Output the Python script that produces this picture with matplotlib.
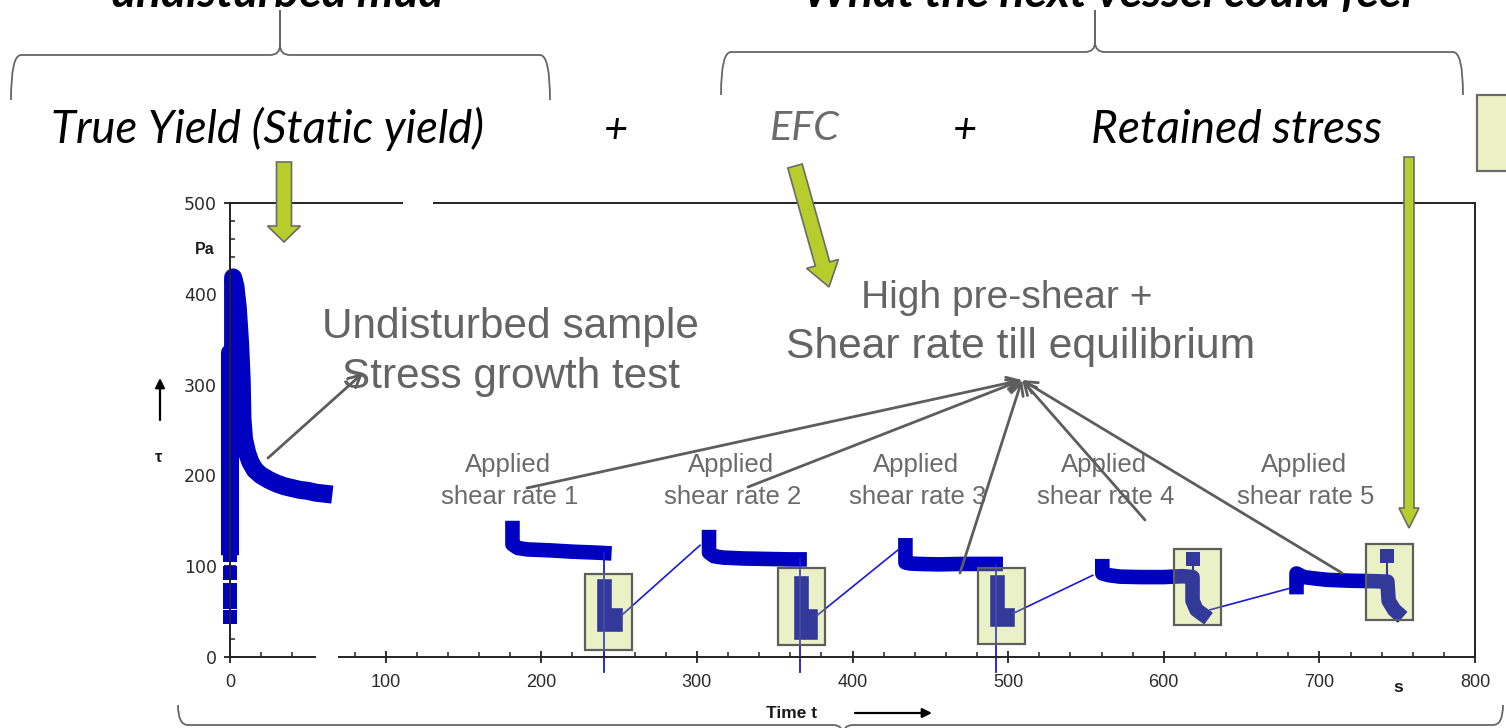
import matplotlib
matplotlib.use('Agg')
import matplotlib.pyplot as plt
from matplotlib.patches import Rectangle, FancyArrow, PathPatch
from matplotlib.path import Path
from matplotlib.ticker import MultipleLocator

# stress growth test on the undisturbed sample (t in s, tau in Pa)
growth_t = [0, 0, 2, 2, 3.5, 5, 6.5, 7.5, 8, 9, 11, 13, 16, 20, 25, 30, 35, 40, 45, 50, 55, 60]
growth_tau = [122, 335, 335, 418, 408, 385, 345, 305, 262, 240, 225, 215, 206, 200, 195, 191, 188, 186, 184, 183, 181, 180]
first_t = [0, 0, 0, 0, 0]
first_tau = [44, 61, 74, 92, 112]

# applied shear rates 1..5 (plateau, then stress relaxation)
rate1_t = [181.5, 181.5, 185, 191, 205, 220, 235, 240.5]
rate1_tau = [142, 124, 120, 118.5, 117.5, 116, 115, 114.5]
rate2_t = [307.8, 307.8, 311, 317, 330, 345, 360, 366]
rate2_tau = [132, 115, 111, 109.5, 108.5, 108, 107.5, 107.5]
rate3_t = [434, 434, 437, 443, 455, 470, 485, 492]
rate3_tau = [123, 104, 103, 102.5, 102, 102.5, 102.5, 102.5]
rate4_t = [560.5, 560.5, 565, 572, 585, 600, 612, 618.5, 618.5, 621, 625]
rate4_tau = [100, 92, 90, 88.5, 88, 88, 89, 88, 62, 52, 47]
rate5_t = [685.3, 685.3, 690, 697, 705, 720, 735, 743.7, 744.5, 748, 750]
rate5_tau = [77, 92, 88, 86.5, 85, 84, 83.5, 83, 62, 52, 49]

relax1_t = [240.5, 240.5, 247.5, 247.5]
relax1_tau = [78, 36, 36, 46]
relax2_t = [366.8, 366.8, 373, 373]
relax2_tau = [81, 28, 28, 45]
relax3_t = [492.7, 492.7, 499, 499]
relax3_tau = [83, 42, 42, 46]

peak_t = [618.7, 743.7]
peak_tau = [107.5, 111.5]
peak_base = [88, 83]

drop_t = [240.4, 366.3, 492.5]
drop_tau = [114.5, 107.5, 102.5]

ramp_t0 = [251.7, 377.4, 503.2, 629.7]
ramp_tau0 = [46, 46, 48, 52]
ramp_t1 = [302, 429.3, 554.4, 680.8]
ramp_tau1 = [123, 118, 90, 75.6]

# retained stress boxes
box_t0 = [228.1, 352.4, 480.5, 606.3, 730.0]
box_t1 = [258.2, 382.4, 510.6, 636.7, 760.4]
box_lo = [7.7, 13.2, 13.9, 35.2, 40.7]
box_hi = [91.4, 97.7, 97.7, 118.6, 124.9]

x_ticks = [0, 100, 200, 300, 400, 500, 600, 700, 800]
y_ticks = [0, 100, 200, 300, 400, 500]

applied_x = [508, 731, 916, 1104, 1304]
callout_from = [(527, 488), (748, 487), (960, 573), (1145, 520), (1342, 573)]

blue = '#0000c0'
green = '#b7cd2b'

fig = plt.figure(figsize=(15.06, 7.28), dpi=100)
ax = fig.add_axes([230 / 1506, 71 / 728, 1245 / 1506, 454 / 728])
ax.set_xlim(0, 800)
ax.set_ylim(0, 500)

thick = dict(color=blue, lw=10.5, solid_capstyle='projecting', solid_joinstyle='round', clip_on=False)
ax.plot(growth_t, growth_tau, **dict(thick, lw=13))
ax.plot(first_t, first_tau, 's', color=blue, ms=10, mew=0, clip_on=False)
for t, tau in [(rate1_t, rate1_tau), (rate2_t, rate2_tau), (rate3_t, rate3_tau),
               (rate4_t, rate4_tau), (rate5_t, rate5_tau)]:
    ax.plot(t, tau, **thick)
for t, tau in [(relax1_t, relax1_tau), (relax2_t, relax2_tau), (relax3_t, relax3_tau)]:
    ax.plot(t, tau, **dict(thick, solid_joinstyle='miter'))
ax.plot(peak_t, peak_tau, 's', color=blue, ms=9.5, mew=0)
for t, top, base in zip(peak_t, peak_tau, peak_base):
    ax.plot([t, t], [top, base], color=blue, lw=1.5)
for t, top in zip(drop_t, drop_tau):
    ax.plot([t, t], [top, -16], color='#1a1ad8', lw=1.3, clip_on=False)
for a, b, c, d in zip(ramp_t0, ramp_tau0, ramp_t1, ramp_tau1):
    ax.plot([a, c], [b, d], color='#1a1ad8', lw=1.2)

for a, b, lo, hi in zip(box_t0, box_t1, box_lo, box_hi):
    ax.add_patch(Rectangle((a, lo), b - a, hi - lo, facecolor=(0.718, 0.804, 0.204, 0.28),
                           edgecolor='#5e5e5e', lw=1.6, zorder=4))

# axes frame and ticks
for side in ['left', 'bottom', 'right', 'top']:
    ax.spines[side].set_color('#222222')
    ax.spines[side].set_linewidth(1.4)
ax.set_xticks(x_ticks)
ax.set_yticks(y_ticks)
ax.xaxis.set_minor_locator(MultipleLocator(20))
ax.yaxis.set_minor_locator(MultipleLocator(20))
ax.tick_params(which='major', direction='inout', length=8.5, width=1.3, color='#222222',
               labelcolor='#2b2b2b', pad=5)
ax.tick_params(axis='x', which='major', pad=8)
ax.tick_params(which='minor', direction='in', length=3.6, width=1.1, color='#222222')
for lab in ax.get_xticklabels():
    lab.set_family('Liberation Sans')
    lab.set_fontsize(13)
for lab in ax.get_yticklabels():
    lab.set_family('DejaVu Sans')
    lab.set_fontsize(12.5)
# breaks in the frame
ax.add_patch(Rectangle((55.3, -8), 14.1, 16, facecolor='white', edgecolor='none', clip_on=False, zorder=6))
ax.add_patch(Rectangle((111.2, 494), 19.3, 12, facecolor='white', edgecolor='none', clip_on=False, zorder=6))

# slide overlay in pixel coordinates
ov = fig.add_axes([0, 0, 1, 1], zorder=5)
ov.set_xlim(0, 1506)
ov.set_ylim(728, 0)
ov.axis('off')
ov.patch.set_alpha(0)
renderer = fig.canvas.get_renderer()


def fit_text(x, y, s, width, **kw):
    t = ov.text(x, y, s, **kw)
    w = t.get_window_extent(renderer).width
    t.set_fontsize(t.get_fontsize() * width / w)
    return t


def brace(x0, x1, xc, y_line, y_tip, y_end, r=10):
    s = 1 if y_tip < y_line else -1
    verts = [(x0, y_end), (x0, y_line), (x0 + r, y_line), (xc - r, y_line), (xc, y_line),
             (xc, y_line - s * r), (xc, y_tip), (xc, y_line - s * r), (xc, y_line),
             (xc + r, y_line), (x1 - r, y_line), (x1, y_line), (x1, y_end)]
    codes = [Path.MOVETO, Path.CURVE3, Path.CURVE3, Path.LINETO, Path.CURVE3, Path.CURVE3,
             Path.LINETO, Path.LINETO, Path.CURVE3, Path.CURVE3, Path.LINETO, Path.CURVE3, Path.CURVE3]
    ov.add_patch(PathPatch(Path(verts, codes), facecolor='none', edgecolor='#666666', lw=1.3))


brace(11, 550, 280, 55, 10, 100)
brace(721, 1463, 1095, 52, 10, 95)
brace(178, 1503, 843, 725, 760, 705)

# headings above the braces, cut by the top edge as on the slide
fit_text(277, 7, 'undisturbed mud', 332, family=['Lato', 'DejaVu Sans'], style='italic',
         weight='bold', fontsize=30, ha='center', va='baseline')
fit_text(1108, 7, 'What the next vessel could feel', 609, family=['Lato', 'DejaVu Sans'],
         style='italic', weight='bold', fontsize=30, ha='center', va='baseline')

ital = dict(family=['Lato', 'DejaVu Sans'], style='italic', fontsize=30, ha='center', va='baseline')
fit_text(268, 143, 'True Yield (Static yield)', 433, color='black', **ital)
fit_text(805, 140, 'EFC', 70, color='#6b6b6b', **ital)
fit_text(1237, 143, 'Retained stress', 290, color='black', **ital)
ov.text(616, 143, '+', color='black', **ital)
ov.text(965, 143, '+', color='black', **ital)
ov.add_patch(Rectangle((1477, 95), 40, 76, facecolor='#ebf1c5', edgecolor='#6b6b6b', lw=1.6))

sans = dict(family='Liberation Sans', color='#646464', ha='center', va='baseline', fontsize=30)
fit_text(510, 338, 'Undisturbed sample', 376, **sans)
fit_text(511, 388, 'Stress growth test', 338, **sans)
fit_text(1007, 308, 'High pre-shear +', 291, **sans)
fit_text(1021, 358, 'Shear rate till equilibrium', 468, **sans)
for i, x in enumerate(applied_x):
    ov.text(x, 465, 'Applied', family='Liberation Sans', color='#6a6a6a', fontsize=18.5,
            ha='center', va='center')
    ov.text(x + 2, 497, 'shear rate %d' % (i + 1), family='Liberation Sans', color='#6a6a6a',
            fontsize=18.5, ha='center', va='center')

callout = dict(arrowstyle='->', color='#5d5d5d', lw=2, mutation_scale=22, shrinkA=0, shrinkB=0)
for p in callout_from:
    ov.annotate('', xy=(1022, 380), xytext=p, arrowprops=callout)
ov.annotate('', xy=(363, 373), xytext=(268, 458), arrowprops=callout)

# green arrows
for x, y, dx, dy, w, hw, hl in [(284, 162, 0, 80, 15, 33, 16), (795, 166, 34, 121, 15, 33, 24),
                               (1409, 157, 0, 371, 10, 20, 20)]:
    ov.add_patch(FancyArrow(x, y, dx, dy, width=w, head_width=hw, head_length=hl,
                            length_includes_head=True, facecolor=green, edgecolor='#6b6b6b', lw=1.2))

# axis labels of the rheometer plot
bold = dict(family='Liberation Sans', weight='bold', color='#1a1a1a', ha='center', va='center')
ov.text(205, 250, 'Pa', fontsize=11.5, **bold)
ov.text(159, 458, 'τ', fontsize=12, **bold)
ov.text(1398, 687, 's', fontsize=12.5, **bold)
ov.text(792, 713, 'Time t', fontsize=12.5, **bold)
head = dict(arrowstyle='-|>', color='black', lw=1.6, mutation_scale=14, shrinkA=0, shrinkB=0)
ov.annotate('', xy=(160, 378), xytext=(160, 420), arrowprops=head)
ov.annotate('', xy=(932, 713), xytext=(855, 713), arrowprops=head)

fig.savefig('out.png', dpi=100)
